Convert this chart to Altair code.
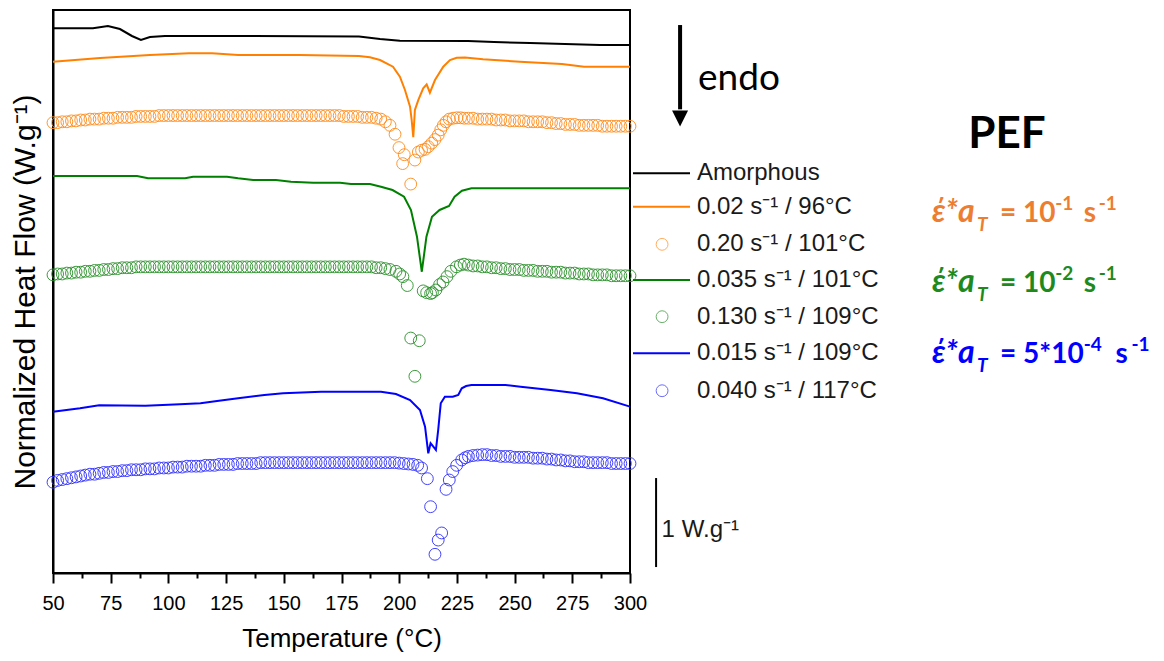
import altair as alt
import pandas as pd

# ---------------- data (T in degC, heat flow in W/g, curves stacked) ----------------
AMORPH_T = [50, 67.3, 73.8, 79.0, 84.2, 88.1, 92.0, 98.5, 135.4, 182.6, 191.7, 200.3, 229.8, 241.1, 256.7, 271.8, 287.0, 300]
AMORPH_Y = [6.12, 6.12, 6.146, 6.112, 6.034, 5.989, 6.022, 6.034, 6.034, 6.028, 6.0, 5.981, 5.978, 5.966, 5.955, 5.944, 5.933, 5.933]

OR_LINE_T = [50, 70.4, 92.0, 108.9, 118.9, 130.2, 157.0, 182.6, 187.3, 191.7, 197.3, 200.3, 202.5, 204.7, 205.4, 206.1,
             206.8, 208.3, 210.4, 211.9, 213.3, 215.5, 219.1, 222.0, 224.9, 228.5, 236.3, 252.3, 270.5, 280.1, 300]
OR_LINE_Y = [5.745, 5.787, 5.82, 5.839, 5.839, 5.82, 5.82, 5.809, 5.794, 5.764, 5.689, 5.576, 5.427, 5.239, 5.09, 4.896,
             5.202, 5.315, 5.446, 5.491, 5.397, 5.539, 5.689, 5.764, 5.79, 5.792, 5.772, 5.745, 5.719, 5.689, 5.689]

GR_LINE_T = [50, 86.4, 91.2, 107.2, 110.7, 125.4, 130.2, 136.7, 146.6, 153.1, 162.7, 174.4, 179.1, 187.3, 192.1, 197.1,
             202.1, 205.1, 207.7, 209.8, 211.8, 214.2, 217.5, 221.6, 224.0, 227.2, 231.3, 300]
GR_LINE_Y = [4.461, 4.461, 4.435, 4.435, 4.453, 4.453, 4.435, 4.416, 4.416, 4.397, 4.385, 4.385, 4.371, 4.371, 4.34, 4.303,
             4.228, 4.079, 3.779, 3.385, 3.779, 4.003, 4.079, 4.124, 4.228, 4.296, 4.322, 4.322]

BL_LINE_T = [50, 61.7, 70.0, 90.0, 105.0, 113.9, 121.9, 130.2, 141.6, 149.7, 166.1, 192.1, 198.6, 204.7, 209.0,
             211.2, 212.6, 213.6, 214.8, 215.9, 216.9, 218.0, 219.8, 223.2, 225.6, 227.1, 229.0, 231.3, 246.0, 252.6,
             265.6, 277.0, 288.3, 300]
BL_LINE_Y = [1.812, 1.851, 1.885, 1.878, 1.895, 1.907, 1.936, 1.963, 2.0, 2.019, 2.037, 2.037, 2.011, 1.944,
             1.831, 1.644, 1.345, 1.457, 1.419, 1.382, 1.607, 1.907, 1.981, 1.981, 2.0, 2.075, 2.101, 2.112, 2.112, 2.093,
             2.056, 2.019, 1.963, 1.869]

# temperature grids of the circle series outside the melting region
GRID_LEFT = [50, 52, 54, 56, 58, 60, 62, 64, 66, 68, 70, 72, 74, 76, 78, 80, 82, 84, 86, 88, 90, 92, 94, 96, 98,
             100, 102, 104, 106, 108, 110, 112, 114, 116, 118, 120, 122, 124, 126, 128, 130, 132, 134, 136, 138,
             140, 142, 144, 146, 148, 150, 152, 154, 156, 158, 160, 162, 164, 166, 168, 170, 172, 174, 176, 178,
             180, 182, 184, 186, 188, 190, 192, 194, 196]
GRID_RIGHT = [230, 232, 234, 236, 238, 240, 242, 244, 246, 248, 250, 252, 254, 256, 258, 260, 262, 264, 266, 268,
              270, 272, 274, 276, 278, 280, 282, 284, 286, 288, 290, 292, 294, 296, 298, 300]

OR_PTS_LEFT = [5.06, 5.06, 5.07, 5.07, 5.08, 5.08, 5.09, 5.09, 5.10, 5.10,
               5.10, 5.11, 5.11, 5.11, 5.12, 5.12, 5.12, 5.12, 5.13, 5.13,
               5.13, 5.13, 5.13, 5.14, 5.14, 5.14, 5.14, 5.14, 5.14, 5.14,
               5.14, 5.14, 5.14, 5.14, 5.14, 5.14, 5.14, 5.14, 5.14, 5.14,
               5.14, 5.14, 5.14, 5.14, 5.14, 5.14, 5.14, 5.14, 5.14, 5.14,
               5.14, 5.14, 5.14, 5.14, 5.14, 5.14, 5.14, 5.14, 5.14, 5.14,
               5.14, 5.14, 5.14, 5.13, 5.13, 5.13, 5.13, 5.12, 5.12, 5.12,
               5.11, 5.10, 5.07, 5.03]
OR_PTS_RIGHT = [5.11, 5.11, 5.10, 5.10, 5.10, 5.10, 5.09, 5.09, 5.09, 5.08,
                5.08, 5.08, 5.08, 5.07, 5.07, 5.07, 5.07, 5.06, 5.06, 5.05,
                5.05, 5.04, 5.04, 5.04, 5.03, 5.03, 5.03, 5.03, 5.03, 5.02,
                5.02, 5.02, 5.02, 5.02, 5.02, 5.02]
OR_DIP_T = [198.2, 199.9, 201.5, 202.2, 205.0, 206.8, 208.3, 209.7, 211.2, 212.6, 214.1, 215.5, 216.9, 218.0, 219.1,
            220.3, 221.7, 223.4, 225.0, 226.6, 228.2]
OR_DIP_Y = [4.93, 4.78, 4.60, 4.70, 4.37, 4.64, 4.73, 4.75, 4.76, 4.79, 4.83, 4.87, 4.92, 4.98, 5.03,
            5.07, 5.10, 5.11, 5.115, 5.115, 5.11]

GR_PTS_LEFT = [3.35, 3.36, 3.36, 3.37, 3.37, 3.38, 3.38, 3.39, 3.39, 3.40,
               3.40, 3.41, 3.41, 3.42, 3.42, 3.43, 3.43, 3.43, 3.44, 3.44,
               3.44, 3.44, 3.44, 3.44, 3.44, 3.44, 3.44, 3.44, 3.44, 3.44,
               3.44, 3.44, 3.44, 3.44, 3.44, 3.44, 3.44, 3.44, 3.44, 3.44,
               3.44, 3.44, 3.44, 3.44, 3.44, 3.44, 3.44, 3.44, 3.44, 3.44,
               3.44, 3.44, 3.44, 3.44, 3.44, 3.44, 3.44, 3.44, 3.44, 3.44,
               3.44, 3.44, 3.44, 3.44, 3.44, 3.44, 3.44, 3.44, 3.44, 3.44,
               3.43, 3.43, 3.42, 3.41]
GR_PTS_RIGHT = [3.46, 3.45, 3.45, 3.44, 3.44, 3.43, 3.43, 3.42, 3.42, 3.41,
                3.41, 3.41, 3.40, 3.40, 3.40, 3.39, 3.39, 3.39, 3.38, 3.38,
                3.38, 3.37, 3.37, 3.37, 3.36, 3.36, 3.36, 3.35, 3.35, 3.35,
                3.35, 3.34, 3.34, 3.34, 3.34, 3.34]
GR_DIP_T = [198.6, 200.2, 201.6, 203.5, 205.0, 206.8, 208.7, 210.4, 211.9, 213.6, 214.4, 215.9, 217.5, 219.0, 220.7,
            222.4, 224.8, 226.5, 228.1]
GR_DIP_Y = [3.39, 3.36, 3.33, 3.23, 2.64, 2.21, 2.61, 3.17, 3.15, 3.14, 3.15, 3.18, 3.24, 3.27, 3.33,
            3.39, 3.44, 3.46, 3.47]

BL_PTS_LEFT = [1.02, 1.04, 1.05, 1.06, 1.07, 1.08, 1.09, 1.10, 1.11, 1.11,
               1.12, 1.13, 1.13, 1.14, 1.14, 1.15, 1.15, 1.16, 1.16, 1.16,
               1.17, 1.17, 1.17, 1.18, 1.18, 1.18, 1.19, 1.19, 1.19, 1.20,
               1.20, 1.20, 1.20, 1.21, 1.21, 1.21, 1.22, 1.22, 1.22, 1.22,
               1.23, 1.23, 1.23, 1.23, 1.23, 1.24, 1.24, 1.24, 1.24, 1.24,
               1.24, 1.24, 1.24, 1.24, 1.24, 1.24, 1.24, 1.24, 1.24, 1.24,
               1.24, 1.24, 1.24, 1.24, 1.24, 1.24, 1.24, 1.24, 1.24, 1.24,
               1.24, 1.24, 1.24, 1.24]
BL_PTS_RIGHT = [1.31, 1.32, 1.325, 1.33, 1.33, 1.32, 1.32, 1.31, 1.31, 1.31,
                1.30, 1.30, 1.30, 1.30, 1.29, 1.29, 1.29, 1.28, 1.28, 1.27,
                1.27, 1.26, 1.26, 1.25, 1.25, 1.25, 1.24, 1.24, 1.24, 1.24,
                1.24, 1.23, 1.23, 1.23, 1.23, 1.23]
BL_DIP_T = [198.0, 200.0, 202.0, 204.0, 206.0, 208.0, 209.7, 212.2, 213.6, 215.5, 216.9, 218.4, 220.3, 221.7, 223.2,
            224.9, 227.1, 228.6]
BL_DIP_Y = [1.24, 1.235, 1.23, 1.225, 1.22, 1.21, 1.18, 1.06, 0.745, 0.21, 0.37, 0.45, 0.94, 1.045, 1.14,
            1.21, 1.27, 1.295]

# legend
LEGEND_LABELS = ["Amorphous", "0.02 s⁻¹ / 96°C", "0.20 s⁻¹ / 101°C", "0.035 s⁻¹ / 101°C",
                 "0.130 s⁻¹ / 109°C", "0.015 s⁻¹ / 109°C", "0.040 s⁻¹ / 117°C"]
LEGEND_KIND = ["line", "line", "point", "line", "point", "line", "point"]
LEGEND_COLORS = ["#000000", "#FF8000", "#FF8C1A", "#008000", "#2A912A", "#0000FF", "#2F2FFF"]
LEGEND_ROW_Y = [4.491, 4.116, 3.693, 3.292, 2.880, 2.469, 2.048]

# equations  ε'*a_T = ...
EQ_COLORS = ["#ED7D31", "#1E8A1E", "#0000FF"]
EQ_BASE_Y = [3.947, 3.161, 2.356]
EQ_PARTS = [  # (row, text, kind, T position)
    (0, "έ*a", "it", 430.9), (0, "T", "sub", 450.3), (0, "= 10", "main", 460.3), (0, "-1", "sup", 484.2),
    (0, "s", "main", 496.6), (0, "-1", "sup", 503.1),
    (1, "έ*a", "it", 430.9), (1, "T", "sub", 450.3), (1, "= 10", "main", 460.3), (1, "-2", "sup", 484.2),
    (1, "s", "main", 496.6), (1, "-1", "sup", 503.1),
    (2, "έ*a", "it", 430.9), (2, "T", "sub", 450.3), (2, "= 5*10", "main", 460.3), (2, "-4", "sup", 496.6),
    (2, "s", "main", 510.4), (2, "-1", "sup", 517.3),
]

# ---------------- scales & axes ----------------
XSCALE = alt.Scale(domain=[50, 300], nice=False, zero=False)
YSCALE = alt.Scale(domain=[0, 6.326], nice=False, zero=False)

MAJOR_TICKS = [50, 75, 100, 125, 150, 175, 200, 225, 250, 275, 300]
MINOR_TICKS = [62.5, 87.5, 112.5, 137.5, 162.5, 187.5, 212.5, 237.5, 262.5, 287.5]

X_AXIS = alt.Axis(
    title="Temperature (°C)", values=MAJOR_TICKS, orient="bottom", tickSize=10,
    labelFontSize=20, labelFont="Liberation Sans", labelPadding=10, labelFlush=False, labelOverlap=False,
    titleFontSize=26, titleFont="Liberation Sans", titleFontWeight="normal", titlePadding=12,
    grid=False,
)
X_MINOR_AXIS = alt.Axis(
    title=None, values=MINOR_TICKS, orient="bottom", tickSize=5, labels=False, domain=False, grid=False,
)
Y_AXIS = alt.Axis(
    title="Normalized Heat Flow (W.g⁻¹)", orient="left", ticks=False, labels=False, grid=False,
    titleFontSize=30, titleFont="Liberation Sans", titleFontWeight="normal", titlePadding=13,
)


def X(field="T", axis=None):
    return alt.X(f"{field}:Q", scale=XSCALE, axis=axis)


def Y(field="Y", axis=None):
    return alt.Y(f"{field}:Q", scale=YSCALE, axis=axis)


# ---------------- data frames ----------------
line_rows = []
for name, col, ts, ys in [("Amorphous", "#000000", AMORPH_T, AMORPH_Y),
                          ("o_line", "#FF8000", OR_LINE_T, OR_LINE_Y),
                          ("g_line", "#008000", GR_LINE_T, GR_LINE_Y),
                          ("b_line", "#0000FF", BL_LINE_T, BL_LINE_Y)]:
    for t, y in zip(ts, ys):
        line_rows.append({"series": name, "col": col, "T": t, "Y": y})
lines_df = pd.DataFrame(line_rows)

pt_rows = []
for name, col, left, dt, dy, right in [
        ("o_pts", "#FF8C1A", OR_PTS_LEFT, OR_DIP_T, OR_DIP_Y, OR_PTS_RIGHT),
        ("g_pts", "#2A912A", GR_PTS_LEFT, GR_DIP_T, GR_DIP_Y, GR_PTS_RIGHT),
        ("b_pts", "#2F2FFF", BL_PTS_LEFT, BL_DIP_T, BL_DIP_Y, BL_PTS_RIGHT)]:
    for t, y in zip(GRID_LEFT, left):
        pt_rows.append({"series": name, "col": col, "T": t, "Y": y})
    for t, y in zip(dt, dy):
        pt_rows.append({"series": name, "col": col, "T": t, "Y": y})
    for t, y in zip(GRID_RIGHT, right):
        pt_rows.append({"series": name, "col": col, "T": t, "Y": y})
pts_df = pd.DataFrame(pt_rows)

leg_df = pd.DataFrame({"label": LEGEND_LABELS, "kind": LEGEND_KIND, "col": LEGEND_COLORS, "Y": LEGEND_ROW_Y})
leg_df["T1"] = 301.3
leg_df["T2"] = 326.0
leg_df["TC"] = 313.9
leg_df["TT"] = 329.0

eq_df = pd.DataFrame([{"text": txt, "kind": kind, "T": t, "Y": EQ_BASE_Y[r], "col": EQ_COLORS[r]}
                      for r, txt, kind, t in EQ_PARTS])

# ---------------- layers ----------------
lines = alt.Chart(lines_df).mark_line(strokeWidth=2).encode(
    x=X("T", X_AXIS), y=Y("Y", Y_AXIS), color=alt.Color("col:N", scale=None), detail="series:N")

points = alt.Chart(pts_df).mark_point(filled=False, size=140, strokeWidth=1, opacity=0.9).encode(
    x=X("T", X_MINOR_AXIS), y=Y(), color=alt.Color("col:N", scale=None), detail="series:N")

leg_lines = alt.Chart(leg_df).transform_filter("datum.kind === 'line'").mark_rule(strokeWidth=2).encode(
    x=X("T1"), x2="T2:Q", y=Y(), color=alt.Color("col:N", scale=None))
leg_pts = alt.Chart(leg_df).transform_filter("datum.kind === 'point'").mark_point(
    filled=False, size=140, strokeWidth=1).encode(
    x=X("TC"), y=Y(), color=alt.Color("col:N", scale=None))
leg_text = alt.Chart(leg_df).mark_text(align="left", baseline="middle", font="Liberation Sans",
                                       fontSize=24, color="#1a1a1a").encode(
    x=X("TT"), y=Y(), text="label:N")

bar_df = pd.DataFrame({"T": [311.3], "Y1": [0.067], "Y2": [1.067], "TL": [313.7], "YL": [0.408],
                       "label": ["1 W.g⁻¹"]})
scale_bar = alt.Chart(bar_df).mark_rule(strokeWidth=2, color="black").encode(
    x=X("T"), y=Y("Y1"), y2="Y2:Q")
scale_text = alt.Chart(bar_df).mark_text(align="left", baseline="alphabetic", font="Liberation Sans",
                                         fontSize=24, color="#1a1a1a").encode(
    x=X("TL"), y=Y("YL"), text="label:N")

arrow_df = pd.DataFrame({"T": [321.7], "Y1": [6.157], "Y2": [5.21], "YH": [5.107],
                         "TE": [329.5], "YE": [5.427], "label": ["endo"]})
arrow_shaft = alt.Chart(arrow_df).mark_rule(strokeWidth=4, color="black").encode(
    x=X("T"), y=Y("Y1"), y2="Y2:Q")
arrow_head = alt.Chart(arrow_df).mark_point(shape="M-1,-1L1,-1L0,1Z", filled=True, size=256,
                                            color="black", opacity=1).encode(x=X("T"), y=Y("YH"))
endo_text = alt.Chart(arrow_df).mark_text(align="left", baseline="alphabetic", font="Lato",
                                          fontSize=37, color="black").encode(
    x=X("TE"), y=Y("YE"), text="label:N")

pef_df = pd.DataFrame({"T": [463.3], "Y": [4.775], "label": ["PEF"]})
pef_text = alt.Chart(pef_df).mark_text(align="center", baseline="alphabetic", font="Lato",
                                       fontWeight="bold", fontSize=44, color="black").encode(
    x=X(), y=Y(), text="label:N")

EQ_FONT = "Lato, Open Sans"
eq_it = alt.Chart(eq_df).transform_filter("datum.kind === 'it'").mark_text(
    align="left", baseline="alphabetic", font=EQ_FONT, fontWeight="bold", fontStyle="italic", fontSize=32).encode(
    x=X(), y=Y(), text="text:N", color=alt.Color("col:N", scale=None))
eq_sub = alt.Chart(eq_df).transform_filter("datum.kind === 'sub'").mark_text(
    align="left", baseline="alphabetic", font=EQ_FONT, fontWeight="bold", fontStyle="italic", fontSize=19,
    dy=9).encode(
    x=X(), y=Y(), text="text:N", color=alt.Color("col:N", scale=None))
eq_main = alt.Chart(eq_df).transform_filter("datum.kind === 'main'").mark_text(
    align="left", baseline="alphabetic", font=EQ_FONT, fontWeight="bold", fontSize=28).encode(
    x=X(), y=Y(), text="text:N", color=alt.Color("col:N", scale=None))
eq_sup = alt.Chart(eq_df).transform_filter("datum.kind === 'sup'").mark_text(
    align="left", baseline="alphabetic", font=EQ_FONT, fontWeight="bold", fontSize=19, dy=-12).encode(
    x=X(), y=Y(), text="text:N", color=alt.Color("col:N", scale=None))

chart = alt.layer(
    lines, points, leg_lines, leg_pts, leg_text, scale_bar, scale_text,
    arrow_shaft, arrow_head, endo_text, pef_text, eq_it, eq_sub, eq_main, eq_sup,
).resolve_axis(
    x="independent", y="independent",
).properties(
    width=577, height=563,
    padding={"left": 45, "top": 2, "right": 526, "bottom": 80},
    autosize=alt.AutoSizeParams(type="none"),
).configure_view(
    stroke="black", strokeWidth=2,
).configure_axis(
    domainColor="black", domainWidth=2, tickColor="black", tickWidth=2,
    labelColor="black", titleColor="black",
)

chart.save("out.html", embed_options={"renderer": "svg", "actions": False})
